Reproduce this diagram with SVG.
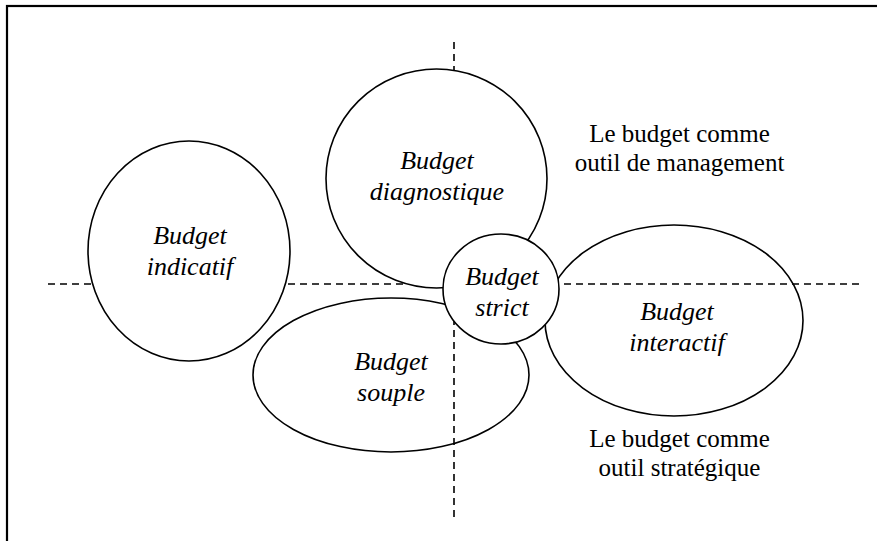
<svg xmlns="http://www.w3.org/2000/svg" width="877" height="541" viewBox="0 0 877 541">
<style>
.frame{fill:none;stroke:#000;stroke-width:2.2}
.axis{fill:none;stroke:#000;stroke-width:1.6;stroke-dasharray:7 5}
.node{stroke:#000;stroke-width:1.6}
.open{fill:none}
.solid{fill:#fff}
.lbl{font-family:"Liberation Serif","Times New Roman",serif;font-style:italic;font-size:26px;fill:#000;text-anchor:middle}
.note{font-family:"Liberation Serif","Times New Roman",serif;font-size:25px;fill:#000;text-anchor:middle}
</style>
<rect width="877" height="541" fill="#fff"/>
<rect class="frame" x="7" y="6" width="880" height="550"/>
<g id="connectors">
<line class="axis" x1="454" y1="42" x2="454" y2="520"/>
<line class="axis" x1="48" y1="284" x2="860" y2="284"/>
</g>
<g id="souple">
<ellipse class="node open" cx="391" cy="375" rx="138" ry="77"/>
<text class="lbl" x="391" y="370">Budget</text>
<text class="lbl" x="391" y="401">souple</text>
</g>
<g id="interactif">
<ellipse class="node open" cx="674" cy="320.5" rx="129" ry="95.5"/>
<text class="lbl" x="677" y="320">Budget</text>
<text class="lbl" x="677" y="351">interactif</text>
</g>
<g id="indicatif">
<ellipse class="node solid" cx="189" cy="251" rx="101" ry="110"/>
<text class="lbl" x="190" y="244">Budget</text>
<text class="lbl" x="190" y="275">indicatif</text>
</g>
<g id="diagnostique">
<ellipse class="node solid" cx="436.5" cy="178.5" rx="110.5" ry="109.5"/>
<text class="lbl" x="437" y="168.5">Budget</text>
<text class="lbl" x="437" y="199.5">diagnostique</text>
</g>
<g id="strict">
<ellipse class="node solid" cx="501" cy="289" rx="58" ry="55"/>
<text class="lbl" x="502" y="285">Budget</text>
<text class="lbl" x="502" y="316">strict</text>
</g>
<g id="management">
<text class="note" x="679.5" y="142">Le budget comme</text>
<text class="note" x="679.5" y="170.5">outil de management</text>
</g>
<g id="strategique">
<text class="note" x="679.5" y="447">Le budget comme</text>
<text class="note" x="679.5" y="475.5">outil stratégique</text>
</g>
</svg>
